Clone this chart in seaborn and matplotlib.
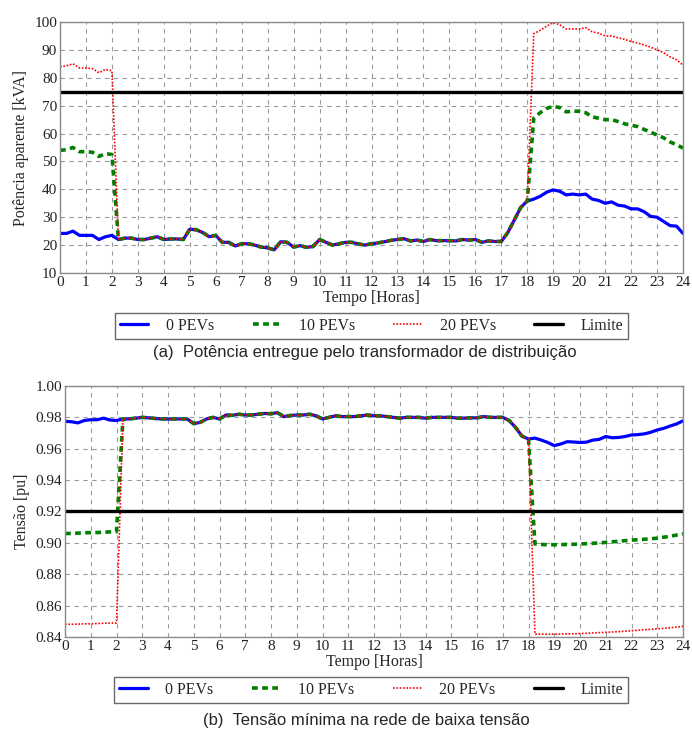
import numpy as np
import pandas as pd
import matplotlib
matplotlib.use("Agg")
import matplotlib.pyplot as plt
import seaborn as sns

# tempo em passos de 15 minutos
horas = np.arange(0, 24.01, 0.25)

# potência aparente [kVA], 0 PEVs
pot_0 = [24.2, 24.2, 25.0, 23.5,
         23.5, 23.5, 22.0, 23.0,
         23.5, 22.0, 22.5, 22.5,
         22.0, 22.0, 22.5, 23.0,
         22.0, 22.2, 22.2, 22.0,
         25.7, 25.5, 24.5, 23.0,
         23.5, 21.0, 21.0, 19.7,
         20.5, 20.5, 20.0, 19.3,
         19.0, 18.3, 21.2, 21.0,
         19.3, 19.8, 19.2, 19.5,
         22.0, 21.0, 20.0, 20.5,
         21.0, 21.0, 20.4, 20.0,
         20.5, 20.8, 21.2, 21.7,
         22.0, 22.3, 21.5, 21.8,
         21.3, 22.0, 21.6, 21.6,
         21.6, 21.5, 22.0, 21.8,
         22.0, 21.0, 21.5, 21.3,
         21.3, 24.5, 29.0, 33.5,
         35.8, 36.5, 37.5, 39.0,
         39.8, 39.3, 38.0, 38.3,
         38.0, 38.3, 36.5, 36.0,
         35.0, 35.5, 34.3, 34.0,
         33.0, 33.0, 32.0, 30.3,
         30.0, 28.5, 27.0, 26.8,
         24.2]

pot_10_ini = [54.0, 54.2, 55.0, 53.5, 53.5, 53.3, 51.8, 52.8, 52.5]
pot_10_fim = [65.5, 67.5, 69.0,
              69.8, 69.3, 67.8, 68.0,
              68.0, 67.5, 66.0, 65.5,
              65.0, 65.0, 64.3, 63.5,
              63.0, 62.5, 61.5, 60.5,
              59.5, 58.5, 57.0, 56.0,
              54.8]
pot_20_ini = [84.0, 84.3, 85.0, 83.5, 83.5, 83.3, 81.8, 83.0, 82.5]
pot_20_fim = [95.8, 97.0, 98.5,
              99.8, 99.0, 97.5, 97.5,
              97.5, 98.0, 96.5, 96.0,
              95.0, 95.0, 94.3, 93.8,
              93.0, 92.5, 91.8, 91.0,
              90.0, 89.0, 87.5, 86.5,
              84.5]
pot_10 = pot_10_ini + pot_0[9:73] + pot_10_fim
pot_20 = pot_20_ini + pot_0[9:73] + pot_20_fim
lim_pot = 75

# tensão mínima [pu], 0 PEVs
ten_0 = [0.9775, 0.9772, 0.9765, 0.9780,
         0.9785, 0.9785, 0.9795, 0.9783,
         0.9780, 0.9790, 0.9790, 0.9795,
         0.9800, 0.9797, 0.9793, 0.9790,
         0.9790, 0.9790, 0.9790, 0.9790,
         0.9760, 0.9768, 0.9790, 0.9800,
         0.9790, 0.9815, 0.9813, 0.9820,
         0.9815, 0.9815, 0.9820, 0.9825,
         0.9823, 0.9830, 0.9805, 0.9812,
         0.9815, 0.9815, 0.9820, 0.9810,
         0.9790, 0.9800, 0.9810, 0.9805,
         0.9805, 0.9805, 0.9810, 0.9815,
         0.9810, 0.9810, 0.9805, 0.9800,
         0.9795, 0.9800, 0.9800, 0.9800,
         0.9795, 0.9800, 0.9800, 0.9800,
         0.9800, 0.9795, 0.9795, 0.9797,
         0.9797, 0.9805, 0.9800, 0.9800,
         0.9800, 0.9780, 0.9735, 0.9680,
         0.9662, 0.9668, 0.9655, 0.9640,
         0.9620, 0.9630, 0.9645, 0.9643,
         0.9640, 0.9642, 0.9655, 0.9660,
         0.9678, 0.9670, 0.9672, 0.9678,
         0.9688, 0.9690, 0.9695, 0.9705,
         0.9720, 0.9730, 0.9745, 0.9758,
         0.9778]

ten_10_ini = [0.9060, 0.9060, 0.9062, 0.9065, 0.9065, 0.9066, 0.9068, 0.9070, 0.9072]
ten_10_fim = [0.8993, 0.8990, 0.8988,
              0.8988, 0.8989, 0.8990, 0.8991,
              0.8993, 0.8995, 0.8997, 0.9000,
              0.9003, 0.9007, 0.9010, 0.9014,
              0.9018, 0.9020, 0.9023, 0.9026,
              0.9030, 0.9036, 0.9042, 0.9050,
              0.9058]
ten_20_ini = [0.8482, 0.8481, 0.8482, 0.8484, 0.8484, 0.8486, 0.8488, 0.8489, 0.8489]
ten_20_fim = [0.8418, 0.8418, 0.8418,
              0.8418, 0.8419, 0.8420, 0.8421,
              0.8422, 0.8424, 0.8426, 0.8428,
              0.8430, 0.8432, 0.8434, 0.8437,
              0.8440, 0.8443, 0.8446, 0.8449,
              0.8452, 0.8455, 0.8459, 0.8463,
              0.8468]
ten_10 = ten_10_ini + ten_0[9:73] + ten_10_fim
ten_20 = ten_20_ini + ten_0[9:73] + ten_20_fim
lim_ten = 0.92

series = ["0 PEVs", "10 PEVs", "20 PEVs"]

sns.set_theme(style="white")
plt.rcParams['font.family'] = ['Liberation Serif', 'DejaVu Serif']

fig = plt.figure(figsize=(6.92, 7.29), dpi=100)
ax1 = fig.add_axes([60 / 692, 1 - 273 / 729, 623 / 692, 251 / 729])
ax2 = fig.add_axes([65 / 692, 1 - 637 / 729, 618 / 692, 251 / 729])

estilos = [
    dict(color="blue", lw=2.3, linestyle="-"),
    dict(color="green", lw=2.6, linestyle=(0, (1.6, 1.2))),
    dict(color="red", lw=1.2, linestyle=(0, (1, 1))),
]


def desenha(ax, valores, limite, ylim, yticks, yfmt, ylabel, leg_x):
    for nome, vals, est in zip(series, valores, estilos):
        df = pd.DataFrame({"t": horas, "v": vals})
        sns.lineplot(data=df, x="t", y="v", ax=ax, label=nome, **est)
    ax.axhline(limite, color="black", lw=2.4, label="Limite")
    ax.set_xlim(0, 24)
    ax.set_ylim(*ylim)
    ax.set_xticks(range(0, 25))
    ax.set_yticks(yticks)
    ax.set_yticklabels([yfmt.format(v) for v in yticks])
    ax.grid(True, color="#9a9a9a", linestyle=(0, (4, 4)), lw=0.8)
    ax.tick_params(length=0, labelsize=11, pad=2, colors="#222222")
    for s in ax.spines.values():
        s.set_color("#8a8a8a")
        s.set_linewidth(1.0)
    ax.set_xlabel("Tempo [Horas]", fontsize=11.5, labelpad=1)
    ax.set_ylabel(ylabel, fontsize=11.5, labelpad=4)
    ax.legend(ncol=4, loc="upper center", bbox_to_anchor=(leg_x, -0.128),
              frameon=True, fancybox=False, edgecolor="#444444",
              fontsize=11.5, handlelength=1.8, columnspacing=2.4,
              borderpad=0.3, handletextpad=1.1)
    ax.get_legend().get_frame().set_linewidth(1.0)


desenha(ax1, [pot_0, pot_10, pot_20], lim_pot, (10, 100),
        list(range(10, 101, 10)), "{:d}", "Potência aparente [kVA]", 0.5)
desenha(ax2, [ten_0, ten_10, ten_20], lim_ten, (0.84, 1.0),
        [0.84, 0.86, 0.88, 0.90, 0.92, 0.94, 0.96, 0.98, 1.00], "{:.2f}", "Tensão [pu]", 0.495)

fig.text(0.527, 1 - 352 / 729, "(a)  Potência entregue pelo transformador de distribuição",
         ha="center", va="center", fontsize=12, family=["Liberation Sans", "DejaVu Sans"])
fig.text(0.53, 1 - 721 / 729, "(b)  Tensão mínima na rede de baixa tensão",
         ha="center", va="center", fontsize=12, family=["Liberation Sans", "DejaVu Sans"])

fig.savefig("out.png", dpi=100)
